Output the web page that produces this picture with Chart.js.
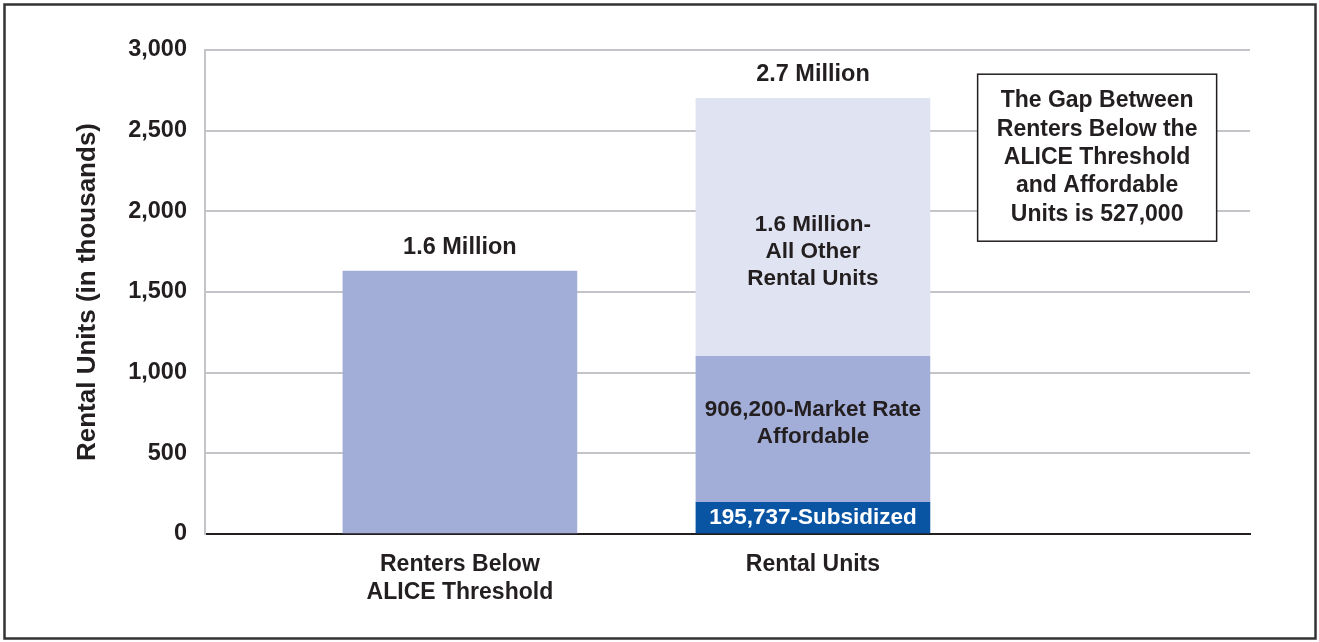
<!DOCTYPE html>
<html>
<head>
<meta charset="utf-8">
<script src="https://cdn.jsdelivr.net/npm/chart.js@4.4.0/dist/chart.umd.min.js"></script>
<style>
    html, body { margin: 0; padding: 0; background: #fff; overflow: hidden; }
    #wrap { position: relative; width: 1319px; height: 642px; }
</style>
</head>
<body>
<div id="wrap"><canvas id="chart" width="1319" height="642"></canvas></div>
<script>
// Values in thousands of units
const CATEGORIES = [['Renters Below', 'ALICE Threshold'], 'Rental Units'];
const Y_TICKS = [0, 500, 1000, 1500, 2000, 2500, 3000];

const renters = [1630, null];
const subsidized = [null, 195.737];
const marketRate = [null, 906.2];
const otherUnits = [null, 1598];

const totalLabels = ['1.6 Million', '2.7 Million'];
const subsidizedLabel = ['195,737-Subsidized'];
const marketRateLabel = ['906,200-Market Rate', 'Affordable'];
const otherUnitsLabel = ['1.6 Million-', 'All Other', 'Rental Units'];
const gapNote = ['The Gap Between', 'Renters Below the', 'ALICE Threshold', 'and Affordable', 'Units is 527,000'];

const COLORS = {
    renters: '#a3aed8',
    subsidized: '#0a55a3',
    marketRate: '#a3aed8',
    otherUnits: '#e0e3f2',
    text: '#231f20',
    grid: '#c4c4c8'
};

const FONT_FAMILY = '"Liberation Sans", Arial, Helvetica, sans-serif';

function toPoints(values) {
    return values
        .map((y, i) => ({ x: i, y }))
        .filter(p => p.y !== null);
}

function drawLines(ctx, lines, cx, cy, lineHeight) {
    const start = cy - (lines.length - 1) * lineHeight / 2;
    lines.forEach((line, i) => ctx.fillText(line, cx, start + i * lineHeight));
}

const labelsPlugin = {
    id: 'labelsPlugin',
    afterDraw(chart) {
        const { ctx, scales: { x, y } } = chart;
        ctx.save();
        ctx.textAlign = 'center';
        ctx.textBaseline = 'middle';
        ctx.fillStyle = COLORS.text;

        // totals above each column
        ctx.font = `bold 23.5px ${FONT_FAMILY}`;
        CATEGORIES.forEach((_, i) => {
            const total = [renters, subsidized, marketRate, otherUnits]
                .reduce((sum, arr) => sum + (arr[i] || 0), 0);
            ctx.fillText(totalLabels[i], x.getPixelForValue(i), y.getPixelForValue(total) - 24);
        });

        // labels inside the stacked segments
        ctx.font = `bold 22.5px ${FONT_FAMILY}`;
        const segments = [
            { ds: 1, lines: subsidizedLabel, color: '#ffffff', dy: 0 },
            { ds: 2, lines: marketRateLabel, color: COLORS.text, dy: -6 },
            { ds: 3, lines: otherUnitsLabel, color: COLORS.text, dy: 24 }
        ];
        segments.forEach(seg => {
            const el = chart.getDatasetMeta(seg.ds).data[0];
            if (!el) return;
            ctx.fillStyle = seg.color;
            drawLines(ctx, seg.lines, el.x, (el.y + el.base) / 2 + seg.dy, 27);
        });

        // gap note box
        ctx.font = `bold 23px ${FONT_FAMILY}`;
        const boxW = 239, boxH = 167;
        const bx = x.getPixelForValue(1.805) - boxW / 2;
        const by = y.getPixelForValue(2850);
        ctx.fillStyle = '#ffffff';
        ctx.fillRect(bx, by, boxW, boxH);
        ctx.strokeStyle = '#231f20';
        ctx.lineWidth = 1.5;
        ctx.strokeRect(bx, by, boxW, boxH);
        ctx.fillStyle = COLORS.text;
        drawLines(ctx, gapNote, bx + boxW / 2, by + boxH / 2, 28.3);

        // outer frame
        ctx.strokeStyle = '#333333';
        ctx.lineWidth = 2.5;
        ctx.strokeRect(4.5, 4.5, 1311, 634);
        ctx.restore();
    }
};

new Chart(document.getElementById('chart').getContext('2d'), {
    type: 'bar',
    data: {
        datasets: [
            { label: 'Renters Below ALICE Threshold', data: toPoints(renters), backgroundColor: COLORS.renters },
            { label: 'Subsidized', data: toPoints(subsidized), backgroundColor: COLORS.subsidized },
            { label: 'Market Rate Affordable', data: toPoints(marketRate), backgroundColor: COLORS.marketRate },
            { label: 'All Other Rental Units', data: toPoints(otherUnits), backgroundColor: COLORS.otherUnits }
        ]
    },
    options: {
        responsive: false,
        animation: false,
        devicePixelRatio: 1,
        barThickness: 234,
        layout: {
            padding: { top: 50, right: 69, bottom: 0, left: 0 }
        },
        plugins: {
            legend: { display: false },
            tooltip: { enabled: false }
        },
        scales: {
            x: {
                type: 'linear',
                stacked: true,
                offset: false,
                min: -0.722,
                max: 2.238,
                z: 1,
                afterBuildTicks: scale => {
                    scale.ticks = CATEGORIES.map((_, i) => ({ value: i }));
                },
                afterFit: scale => { scale.height = 108; },
                grid: { display: false, drawTicks: false },
                border: { display: true, color: COLORS.text, width: 2 },
                ticks: {
                    padding: 17,
                    color: COLORS.text,
                    font: { family: FONT_FAMILY, size: 23, weight: 'bold', lineHeight: 1.22 },
                    maxRotation: 0,
                    autoSkip: false,
                    callback: value => CATEGORIES[value]
                }
            },
            y: {
                stacked: true,
                min: 0,
                max: 3000,
                afterBuildTicks: scale => {
                    scale.ticks = Y_TICKS.map(v => ({ value: v }));
                },
                afterFit: scale => { scale.width = 205; },
                grid: { color: COLORS.grid, lineWidth: 2, drawTicks: false },
                border: { display: true, color: COLORS.grid, width: 2 },
                ticks: {
                    padding: 18,
                    color: COLORS.text,
                    font: { family: FONT_FAMILY, size: 23.5, weight: 'bold' },
                    callback: value => value.toLocaleString('en-US')
                },
                title: {
                    display: true,
                    text: 'Rental Units (in thousands)',
                    color: COLORS.text,
                    font: { family: FONT_FAMILY, size: 26, weight: 'bold' },
                    padding: { top: 72, bottom: 0 }
                }
            }
        }
    },
    plugins: [labelsPlugin]
});
</script>
</body>
</html>
